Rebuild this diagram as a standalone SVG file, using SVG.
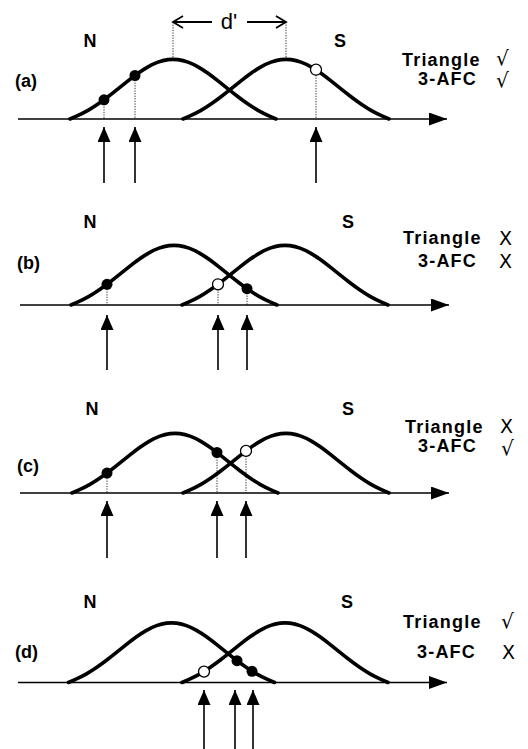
<svg xmlns="http://www.w3.org/2000/svg" xmlns:xlink="http://www.w3.org/1999/xlink" width="528" height="749" viewBox="0 0 528 749">
<style>
.bg{fill:#fff}
.bell{fill:none;stroke:#000;stroke-width:3.6;stroke-linecap:round;stroke-linejoin:round}
.axis{fill:none;stroke:#000;stroke-width:1.5}
.shaft{fill:none;stroke:#000;stroke-width:1.6}
.dot{stroke:#000;stroke-width:0.8;fill:none;stroke-dasharray:1.3 1.3}
.fd{fill:#000}
.od{fill:#fff;stroke:#000;stroke-width:1.3}
.lbl{font-family:"Liberation Sans",Arial,Helvetica,sans-serif;font-weight:bold;font-size:18px;fill:#000}
.tt{letter-spacing:1.2px}
.mk{font-family:"DejaVu Sans","Liberation Sans",sans-serif;font-size:19px;fill:#000}
.ck{font-size:20px}
.dp{fill:none;stroke:#000;stroke-width:1.8}
</style>
<defs>
<path id="bell" class="bell" d="M-103,0 L-96.5,-2.9 Q-90,-5.8 -85,-8.65 Q-80,-11.5 -75,-14.95 Q-70,-18.4 -65,-22.2 Q-60,-26 -55,-30.05 Q-50,-34.1 -45,-38.1 Q-40,-42.1 -35,-45.7 Q-30,-49.3 -25,-52.15 Q-20,-55 -15,-56.85 Q-10,-58.7 -5,-59.35 Q0,-60 5,-59.35 Q10,-58.7 15,-56.85 Q20,-55 25,-52.15 Q30,-49.3 35,-45.7 Q40,-42.1 45,-38.1 Q50,-34.1 55,-30.05 Q60,-26 65,-22.2 Q70,-18.4 75,-14.95 Q80,-11.5 85,-8.65 Q90,-5.8 96.5,-2.9 L103,0"/>
<marker id="ah" viewBox="0 0 15 13" refX="15" refY="6.5" markerWidth="15" markerHeight="13" markerUnits="userSpaceOnUse" orient="auto">
<path d="M0,0 L15,6.5 L0,13 Z" fill="#000"/>
</marker>
<marker id="axh" viewBox="0 0 18 13" refX="18" refY="6.5" markerWidth="18" markerHeight="13" markerUnits="userSpaceOnUse" orient="auto">
<path d="M0,0 L18,6.5 L0,13 Z" fill="#000"/>
</marker>
</defs>
<rect class="bg" x="0" y="0" width="528" height="749"/>

<g id="panel-a">
<line class="axis" x1="18" y1="119" x2="447" y2="119" marker-end="url(#axh)"/>
<use xlink:href="#bell" href="#bell" x="173" y="119"/>
<use xlink:href="#bell" href="#bell" x="286" y="119"/>
<text class="lbl" x="90" y="47" text-anchor="middle">N</text>
<text class="lbl" x="340" y="47" text-anchor="middle">S</text>
<text class="lbl" x="15" y="87">(a)</text>
<text class="lbl tt" x="402" y="66">Triangle</text>
<text class="lbl tt" x="418" y="85">3-AFC</text>
<text class="mk ck" x="496" y="65">√</text>
<text class="mk ck" x="496" y="87">√</text>
<text class="lbl" x="229" y="29" text-anchor="middle" style="font-weight:normal;font-size:22px">d'</text>
<path class="dp" d="M212,22 H173 M183,16 L173,22 L183,28"/>
<path class="dp" d="M247,22 H286 M276,16 L286,22 L276,28"/>
<circle class="fd" cx="104" cy="99.8" r="5.5"/>
<circle class="fd" cx="135" cy="75.5" r="5.5"/>
<circle class="od" cx="316" cy="69.7" r="5.5"/>
</g>

<g id="panel-b">
<line class="axis" x1="20" y1="305" x2="449" y2="305" marker-end="url(#axh)"/>
<use xlink:href="#bell" href="#bell" x="174" y="305"/>
<use xlink:href="#bell" href="#bell" x="285" y="305"/>
<text class="lbl" x="90" y="228" text-anchor="middle">N</text>
<text class="lbl" x="348" y="228" text-anchor="middle">S</text>
<text class="lbl" x="17" y="269">(b)</text>
<text class="lbl tt" x="403" y="244">Triangle</text>
<text class="lbl tt" x="418" y="267">3-AFC</text>
<text class="mk" x="499" y="245">X</text>
<text class="mk" x="499" y="268">X</text>
<circle class="fd" cx="107" cy="284.3" r="5.5"/>
<circle class="od" cx="218" cy="284.3" r="5.5"/>
<circle class="fd" cx="247" cy="288.7" r="5.5"/>
</g>

<g id="panel-c">
<line class="axis" x1="20" y1="493" x2="449" y2="493" marker-end="url(#axh)"/>
<use xlink:href="#bell" href="#bell" x="175" y="493"/>
<use xlink:href="#bell" href="#bell" x="286" y="493"/>
<text class="lbl" x="92" y="415" text-anchor="middle">N</text>
<text class="lbl" x="348" y="415" text-anchor="middle">S</text>
<text class="lbl" x="17" y="472">(c)</text>
<text class="lbl tt" x="405" y="433">Triangle</text>
<text class="lbl tt" x="418" y="452">3-AFC</text>
<text class="mk" x="500" y="433">X</text>
<text class="mk ck" x="501" y="455">√</text>
<circle class="fd" cx="107" cy="473.1" r="5.5"/>
<circle class="fd" cx="217" cy="452.5" r="5.5"/>
<circle class="od" cx="246" cy="450.9" r="5.5"/>
</g>

<g id="panel-d">
<line class="axis" x1="18" y1="682.5" x2="447" y2="682.5" marker-end="url(#axh)"/>
<use xlink:href="#bell" href="#bell" x="171.5" y="682.5"/>
<use xlink:href="#bell" href="#bell" x="285" y="682.5"/>
<text class="lbl" x="90" y="608" text-anchor="middle">N</text>
<text class="lbl" x="347" y="608" text-anchor="middle">S</text>
<text class="lbl" x="15" y="658">(d)</text>
<text class="lbl tt" x="403" y="628">Triangle</text>
<text class="lbl tt" x="417" y="658">3-AFC</text>
<text class="mk ck" x="501" y="628">√</text>
<text class="mk" x="502" y="659">X</text>
<circle class="od" cx="204" cy="671.6" r="5.5"/>
<circle class="fd" cx="237" cy="660.7" r="5.5"/>
<circle class="fd" cx="252" cy="671.3" r="5.5"/>
</g>

<g id="connectors">
<line class="dot" x1="173" y1="22" x2="173" y2="59"/>
<line class="dot" x1="286" y1="22" x2="286" y2="59"/>
<line class="dot" x1="104" y1="104" x2="104" y2="119"/>
<line class="dot" x1="135" y1="80" x2="135" y2="119"/>
<line class="dot" x1="316" y1="75" x2="316" y2="119"/>
<line class="shaft" x1="104" y1="183" x2="104" y2="127" marker-end="url(#ah)"/>
<line class="shaft" x1="135" y1="183" x2="135" y2="127" marker-end="url(#ah)"/>
<line class="shaft" x1="316" y1="183" x2="316" y2="127" marker-end="url(#ah)"/>

<line class="dot" x1="107" y1="289" x2="107" y2="305"/>
<line class="dot" x1="218" y1="289" x2="218" y2="305"/>
<line class="dot" x1="247" y1="293" x2="247" y2="305"/>
<line class="shaft" x1="107" y1="370" x2="107" y2="315" marker-end="url(#ah)"/>
<line class="shaft" x1="218" y1="370" x2="218" y2="315" marker-end="url(#ah)"/>
<line class="shaft" x1="247" y1="370" x2="247" y2="315" marker-end="url(#ah)"/>

<line class="dot" x1="107" y1="478" x2="107" y2="493"/>
<line class="dot" x1="217" y1="457" x2="217" y2="493"/>
<line class="dot" x1="246" y1="456" x2="246" y2="493"/>
<line class="shaft" x1="107" y1="558" x2="107" y2="501" marker-end="url(#ah)"/>
<line class="shaft" x1="217" y1="558" x2="217" y2="501" marker-end="url(#ah)"/>
<line class="shaft" x1="246" y1="558" x2="246" y2="501" marker-end="url(#ah)"/>

<line class="shaft" x1="204" y1="749" x2="204" y2="690" marker-end="url(#ah)"/>
<line class="shaft" x1="235" y1="749" x2="235" y2="690" marker-end="url(#ah)"/>
<line class="shaft" x1="253" y1="749" x2="253" y2="690" marker-end="url(#ah)"/>
</g>
</svg>
